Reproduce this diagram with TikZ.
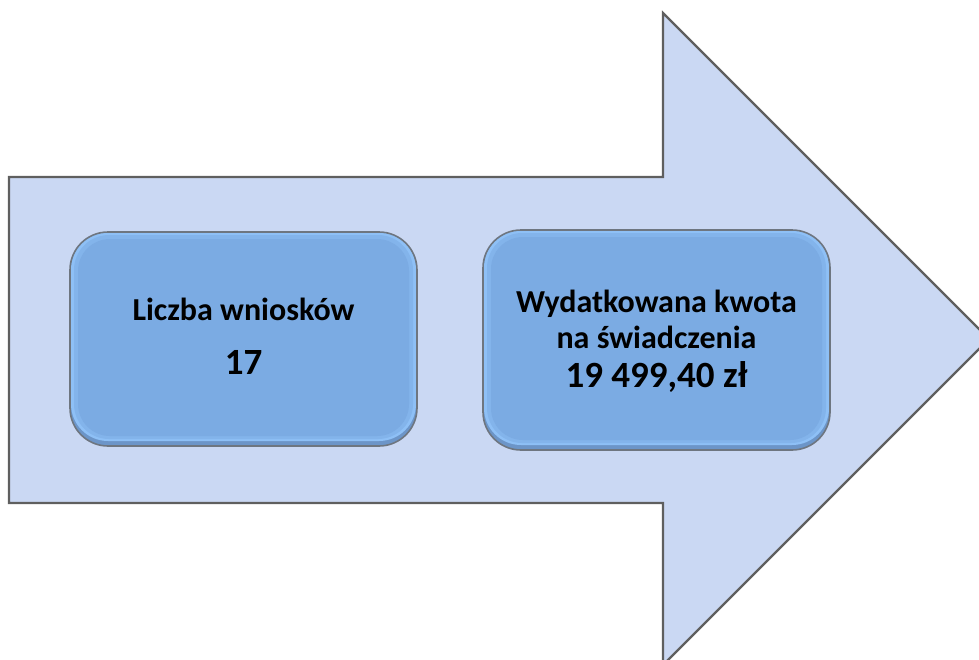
\documentclass[tikz,border=0pt]{standalone}
\usepackage{fontspec}
\setmainfont{Carlito}
\definecolor{arrowfill}{HTML}{CAD8F3}
\definecolor{arrowedge}{HTML}{5F5F5F}
\definecolor{boxfill}{HTML}{7BABE3}
\definecolor{boxlight}{HTML}{8EC0F6}
\definecolor{boxdark}{HTML}{6C95C8}
\definecolor{boxedge}{HTML}{6E7680}
\tikzset{
  bigarrow/.style={fill=arrowfill, draw=arrowedge, line width=2.2pt, line join=miter},
  infobox/.style={draw=boxedge, line width=1.6pt, rounded corners=38pt},
  boxtext/.style={font=\bfseries\fontsize{32}{38}\selectfont, anchor=base, text=black, inner sep=0pt},
  bignum/.style={font=\bfseries\fontsize{37}{44}\selectfont, anchor=base, text=black, inner sep=0pt},
}
\begin{document}
\begin{tikzpicture}[x=1pt,y=-1pt]
\useasboundingbox (0,0) rectangle (979,659);
\begin{scope}
\clip (0,0) rectangle (979,659);
\draw[bigarrow] (9,177) -- (663,177) -- (663,13) -- (989,339) -- (663,665) -- (663,503) -- (9,503) -- cycle;
\end{scope}
% box 1
\fill[boxdark, rounded corners=38pt] (70,232) rectangle (417,446);
\fill[boxlight, rounded corners=37pt] (71,232) rectangle (416,441);
\fill[boxfill!60!boxlight, rounded corners=35pt] (74,235) rectangle (413,439);
\fill[boxfill, rounded corners=32pt] (78,239) rectangle (409,436);
\draw[infobox] (70,232) rectangle (417,446);
\node[boxtext] (t1) at (243.5,320) {Liczba wniosków};
\node[bignum] (n1) at (243.5,374) {17};
% box 2
\fill[boxdark, rounded corners=38pt] (483,230) rectangle (830,450);
\fill[boxlight, rounded corners=37pt] (484,230) rectangle (829,445);
\fill[boxfill!60!boxlight, rounded corners=35pt] (487,233) rectangle (826,443);
\fill[boxfill, rounded corners=32pt] (491,237) rectangle (822,440);
\draw[infobox] (483,230) rectangle (830,450);
\node[boxtext] (t2) at (656.5,312) {Wydatkowana kwota};
\node[boxtext] (t3) at (656.5,348) {na świadczenia};
\node[bignum] (n2) at (656.5,387) {19 499,40 zł};
\end{tikzpicture}
\end{document}
